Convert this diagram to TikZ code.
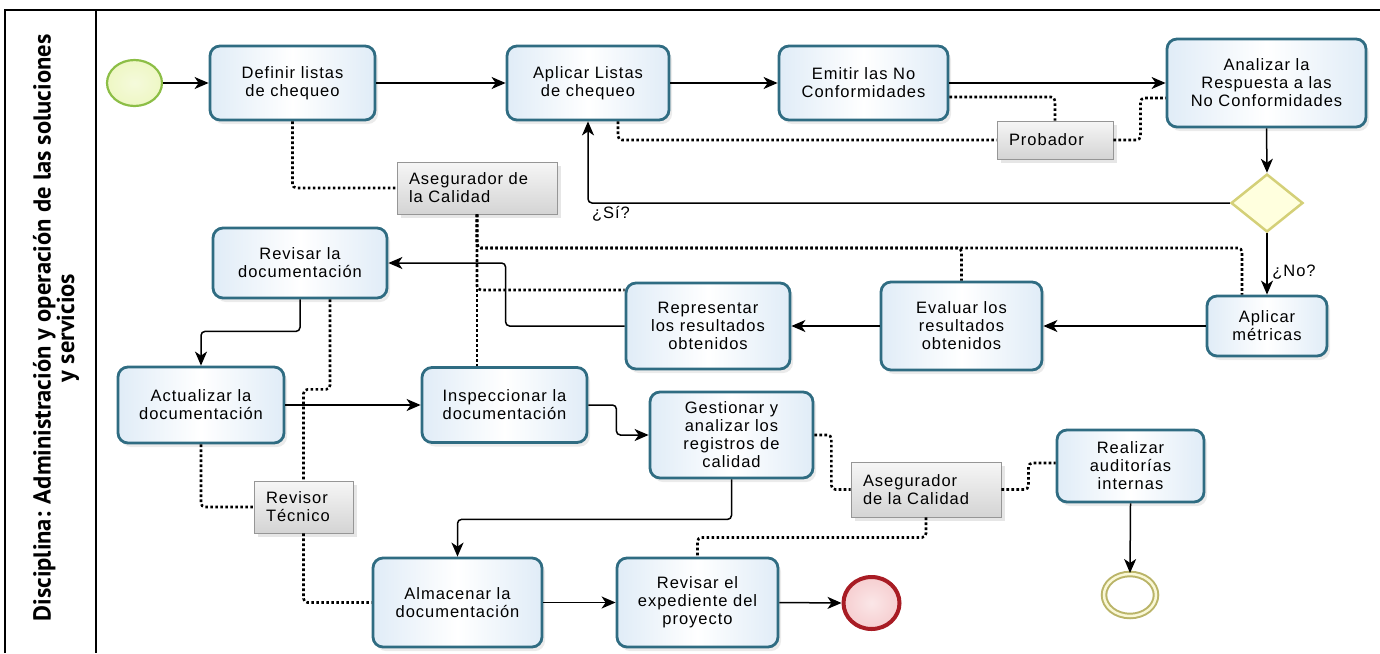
\documentclass[tikz,border=0pt]{standalone}
\usepackage{fontspec}
\setmainfont{Liberation Sans}[LetterSpace=6]
\newfontfamily\lanefont{PT Sans}
\usetikzlibrary{arrows.meta,shapes.geometric,shadows}

\definecolor{taskline}{RGB}{47,108,130}
\definecolor{taskedge}{RGB}{224,236,247}
\definecolor{noteline}{RGB}{150,150,150}
\definecolor{notetop}{RGB}{246,246,246}
\definecolor{notebot}{RGB}{212,212,212}
\definecolor{gwline}{RGB}{212,208,120}
\definecolor{gwfill}{RGB}{255,255,222}
\definecolor{startline}{RGB}{140,190,70}
\definecolor{startfill}{RGB}{238,247,196}
\definecolor{endline}{RGB}{168,28,36}
\definecolor{endfill}{RGB}{246,206,208}
\definecolor{interline}{RGB}{186,180,104}
\definecolor{interfill}{RGB}{250,248,214}

\begin{document}
\begin{tikzpicture}[x=1pt,y=-1pt,
  every node/.style={font=\fontsize{16.5}{18}\selectfont},
  task/.style={draw=taskline, line width=2.8pt, rounded corners=10pt,
    left color=taskedge, right color=taskedge, middle color=white,
    align=center, inner sep=2pt,
    drop shadow={opacity=0.16, shadow xshift=3pt, shadow yshift=-4pt}},
  note/.style={draw=noteline, line width=0.9pt, top color=notetop, bottom color=notebot,
    align=left, inner xsep=12pt, inner ysep=3pt,
    drop shadow={opacity=0.2, shadow xshift=4pt, shadow yshift=-4pt}},
  flow/.style={line width=1.5pt, -{Stealth[length=14pt,width=12pt,inset=4pt]}, rounded corners=4pt},
  assoc/.style={line width=2.6pt, dash pattern=on 2.6pt off 2.4pt, rounded corners=4pt},
  lbl/.style={inner sep=0pt}
]
\useasboundingbox (0,0) rectangle (1380,653);

% lane frame and title
\draw[line width=1.3pt] (5,653) -- (5,10) -- (1380,10);
\draw[line width=1.3pt] (96,10) -- (96,653);
\node[rotate=90, align=center, font=\lanefont\bfseries\fontsize{24.5}{23.5}\selectfont] (lane) at (56,328)
  {Disciplina: Administración y operación de las soluciones\\y servicios};

% events and gateway
\node[ellipse, draw=startline, line width=2.2pt, inner color=white!40!startfill, outer color=startfill,
  minimum width=55pt, minimum height=46pt] (start) at (134.5,83) {};
\node[ellipse, draw=endline, line width=4pt, inner color=white!50!endfill, outer color=endfill,
  minimum width=56pt, minimum height=52pt] (endev) at (871.5,603) {};
\node[ellipse, draw=interline, double=interfill, double distance=2.5pt, line width=2pt, fill=white,
  minimum width=52pt, minimum height=42pt] (inter) at (1130,595) {};
\node[diamond, draw=gwline, fill=gwfill, line width=2.5pt, inner sep=0pt,
  minimum width=72pt, minimum height=58pt] (gw) at (1267,203) {};

% tasks
\node[task, minimum width=165, minimum height=74] (defin) at (292.5,83) {Definir listas\\de chequeo};
\node[task, minimum width=162, minimum height=74] (aplic) at (588,83) {Aplicar Listas\\de chequeo};
\node[task, minimum width=169, minimum height=74] (emit) at (863.5,83) {Emitir las No\\Conformidades};
\node[task, minimum width=199, minimum height=88] (anal) at (1266.5,83) {Analizar la\\Respuesta a las\\No Conformidades};
\node[task, minimum width=120, minimum height=60] (metr) at (1267,326) {Aplicar\\métricas};
\node[task, minimum width=161, minimum height=88] (eval) at (961.5,326) {Evaluar los\\resultados\\obtenidos};
\node[task, minimum width=164, minimum height=86] (repr) at (708,326) {Representar\\los resultados\\obtenidos};
\node[task, minimum width=174, minimum height=70] (revdoc) at (300,263) {Revisar la\\documentación};
\node[task, minimum width=166, minimum height=76] (actu) at (201,405) {Actualizar la\\documentación};
\node[task, minimum width=165, minimum height=75] (insp) at (504.5,405) {Inspeccionar la\\documentación};
\node[task, minimum width=163, minimum height=86] (gest) at (731.5,435) {Gestionar y\\analizar los\\registros de\\calidad};
\node[task, minimum width=169, minimum height=89] (alma) at (457.5,602.5) {Almacenar la\\documentación};
\node[task, minimum width=161, minimum height=89] (revexp) at (697.5,602.5) {Revisar el\\expediente del\\proyecto};
\node[task, minimum width=147, minimum height=72] (real) at (1130.5,466) {Realizar\\auditorías\\internas};

% role annotations
\node[note, text width=136pt, minimum height=52pt] (qa1) at (477,188) {Asegurador de\\la Calidad};
\node[note, text width=92pt, minimum height=38pt] (prob) at (1055,140) {Probador};
\node[note, text width=75pt, minimum height=52pt] (tech) at (303.5,507) {Revisor\\Técnico};
\node[note, text width=126pt, minimum height=55pt] (qa2) at (926,489.5) {Asegurador\\de la Calidad};

% gateway labels
\node[lbl] (si) at (611,214) {¿Sí?};
\node[lbl] (no) at (1294,272) {¿No?};

% sequence flows
\draw[flow] (start.east) -- (defin.west);
\draw[flow] (defin.east) -- (aplic.west);
\draw[flow] (aplic.east) -- (emit.west);
\draw[flow] (emit.east) -- (anal.west);
\draw[flow] (anal.south) -- (gw.north);
\draw[flow] (gw.west) -| (aplic.south);
\draw[flow] (gw.south) -- (metr.north);
\draw[flow] (metr.west) -- (eval.east);
\draw[flow] (eval.west) -- (repr.east);
\draw[flow] (repr.west) -- ++(-119,0) |- (revdoc.east);
\draw[flow] (revdoc.south) -- ++(0,32) -| (actu.north);
\draw[flow] (actu.east) -- (insp.west);
\draw[flow] (insp.east) -- ++(28,0) |- (gest.west);
\draw[flow] (gest.south) -- ++(0,40) -| (alma.north);
\draw[flow] (alma.east) -- (revexp.west);
\draw[flow] (revexp.east) -- (endev.west);
\draw[flow] (real.south) -- (inter.north);

% associations between roles and tasks
\coordinate (mtop) at ([xshift=-25pt]metr.north);
\draw[assoc] (defin.south) |- (qa1.west);
\draw[assoc] (qa1.south) -- (qa1.south |- insp.north);
\draw[assoc] (qa1.south) |- (repr.west |- 0,290);
\draw[assoc] (qa1.south) |- (eval.north |- 0,248) -- (eval.north);
\draw[assoc] (qa1.south) |- (mtop |- 0,248) -- (mtop);
\draw[assoc] ([xshift=30pt]revdoc.south) -- ++(0,90) -| (tech.north);
\draw[assoc] (tech.south) |- (alma.west);
\draw[assoc] (actu.south) |- (tech.west);
\draw[assoc] ([yshift=-14pt]emit.east) -| (prob.north);
\draw[assoc] ([xshift=30pt]aplic.south) |- (prob.west);
\draw[assoc] (prob.east) -- ++(27,0) |- ([yshift=-15pt]anal.west);
\draw[assoc] (gest.east) -- ++(17,0) |- (qa2.west);
\draw[assoc] (qa2.east) -- ++(27,0) |- ([yshift=3pt]real.west);
\draw[assoc] (qa2.south) -- ++(0,20) -| (revexp.north);
\end{tikzpicture}
\end{document}
